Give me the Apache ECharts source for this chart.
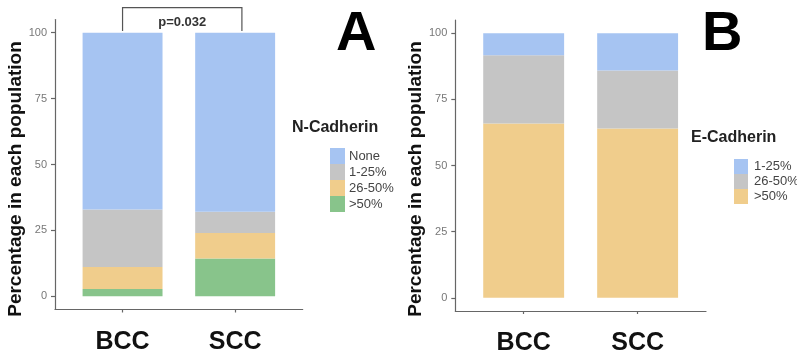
<!DOCTYPE html>
<html>
<head>
<meta charset="utf-8">
<script src="https://cdn.jsdelivr.net/npm/echarts@6/dist/echarts.min.js"></script>
<style>
html,body{margin:0;padding:0;background:#fff;}
#chart{width:797px;height:356px;}
</style>
</head>
<body>
<div id="chart"></div>
<script>
// ---- data ----
const categories = ['BCC', 'SCC'];
const yTicks = [0, 25, 50, 75, 100];

// Panel A: N-Cadherin (bottom to top: >50%, 26-50%, 1-25%, None)
const nCadLevels = ['None', '1-25%', '26-50%', '>50%'];
const nCadNone = [67.1, 67.9];
const nCad1to25 = [21.8, 8.1];
const nCad26to50 = [8.3, 9.7];
const nCadOver50 = [2.8, 14.3];

// Panel B: E-Cadherin (bottom to top: >50%, 26-50%, 1-25%)
const eCadLevels = ['1-25%', '26-50%', '>50%'];
const eCad1to25 = [8.3, 14.1];
const eCad26to50 = [25.8, 21.9];
const eCadOver50 = [65.9, 64.0];

const pValueText = 'p=0.032';
const panelLabels = ['A', 'B'];
const yTitle = 'Percentage in each population';

// ---- styles ----
const C_BLUE = '#A6C4F2', C_GRAY = '#C5C5C5', C_ORANGE = '#F0CD8C', C_GREEN = '#88C48B';
const FONT = '"Liberation Sans", Arial, Helvetica, sans-serif';

const nColors = [C_BLUE, C_GRAY, C_ORANGE, C_GREEN];
const eColors = [C_BLUE, C_GRAY, C_ORANGE];

function stackRanges(listsBottomUp) {
  const base = categories.map(() => 0);
  return listsBottomUp.map(vals => vals.map((v, i) => {
    const s = base[i]; base[i] += v;
    return [i + 1, s, base[i]];
  }));
}

const nStack = stackRanges([nCadOver50, nCad26to50, nCad1to25, nCadNone]); // bottom-up
const eStack = stackRanges([eCadOver50, eCad26to50, eCad1to25]);

function renderBar(params, api) {
  const x = api.value(0);
  const p0 = api.coord([x, api.value(1)]);
  const p1 = api.coord([x, api.value(2)]);
  const w = api.size([1, 0])[0] * 0.71;
  return {
    type: 'rect',
    shape: { x: p0[0] - w / 2, y: p1[1], width: w, height: p0[1] - p1[1] },
    style: { fill: api.visual('color') }
  };
}

const series = [];
const nOrderBottomUp = [3, 2, 1, 0];
nOrderBottomUp.forEach((li, k) => {
  series.push({
    type: 'custom', name: nCadLevels[li], xAxisIndex: 0, yAxisIndex: 0,
    itemStyle: { color: nColors[li] }, renderItem: renderBar, data: nStack[k],
    encode: { x: 0, y: [1, 2] }
  });
});
const eOrderBottomUp = [2, 1, 0];
eOrderBottomUp.forEach((li, k) => {
  series.push({
    type: 'custom', name: 'E:' + eCadLevels[li], xAxisIndex: 1, yAxisIndex: 1,
    itemStyle: { color: eColors[li] }, renderItem: renderBar, data: eStack[k],
    encode: { x: 0, y: [1, 2] }
  });
});
// significance bracket for panel A
series.push({
  type: 'custom', xAxisIndex: 0, yAxisIndex: 0, clip: false, silent: true,
  data: [[1, 2.06, 100.6, 109.5]],
  encode: { x: [0, 1], y: [2, 3] },
  renderItem: function (params, api) {
    const a = api.coord([api.value(0), api.value(2)]);
    const b = api.coord([api.value(0), api.value(3)]);
    const c = api.coord([api.value(1), api.value(3)]);
    const d = api.coord([api.value(1), api.value(2)]);
    return {
      type: 'group', children: [
        { type: 'polyline', shape: { points: [a, b, c, d] },
          style: { stroke: '#555', lineWidth: 1.2, fill: null } },
        { type: 'text', x: (a[0] + d[0]) / 2, y: b[1] + 15,
          style: { text: pValueText, font: 'bold 13px ' + FONT, fill: '#333',
                   textAlign: 'center', textVerticalAlign: 'middle' } }
      ]
    };
  }
});

const axisLineStyle = { color: '#666', width: 1.2 };

function xAxisCfg(gi) {
  return {
    type: 'value', gridIndex: gi, min: 0.4, max: 2.6,
    splitLine: { show: false },
    axisLine: { show: true, onZero: false, lineStyle: axisLineStyle },
    axisTick: { show: true, length: 3, lineStyle: axisLineStyle, customValues: categories.map((c, i) => i + 1) },
    axisLabel: {
      customValues: categories.map((c, i) => i + 1),
      formatter: v => categories[Math.round(v) - 1],
      fontFamily: FONT, fontWeight: 'bold', fontSize: 25, color: '#111', margin: 20
    }
  };
}
function yAxisCfg(gi) {
  return {
    type: 'value', gridIndex: gi, min: -5, max: 105,
    splitLine: { show: false },
    axisLine: { show: true, onZero: false, lineStyle: axisLineStyle },
    axisTick: { show: true, length: 4, lineStyle: axisLineStyle, customValues: yTicks },
    axisLabel: { customValues: yTicks, fontFamily: FONT, fontSize: 11, color: '#777', margin: 8 }
  };
}

const option = {
  animation: false,
  backgroundColor: '#fff',
  grid: [
    { left: 55, top: 19.5, width: 247.7, height: 290 },
    { left: 455.3, top: 20, width: 250.7, height: 292 }
  ],
  xAxis: [xAxisCfg(0), xAxisCfg(1)],
  yAxis: [yAxisCfg(0), yAxisCfg(1)],
  legend: [
    {
      data: nCadLevels, orient: 'vertical', left: 325, top: 143,
      icon: 'rect', itemWidth: 15, itemHeight: 16, itemGap: 0, selectedMode: false,
      textStyle: { fontFamily: FONT, fontSize: 13, color: '#444', padding: [0, 0, 0, -1] }
    },
    {
      data: eCadLevels.map(l => 'E:' + l), orient: 'vertical', left: 729, top: 154,
      icon: 'rect', itemWidth: 14, itemHeight: 15, itemGap: 0, selectedMode: false,
      formatter: n => n.replace(/^E:/, ''),
      textStyle: { fontFamily: FONT, fontSize: 13, color: '#444', padding: [0, 0, 0, 1] }
    }
  ],
  graphic: [
    { type: 'text', x: 16, y: 179, rotation: Math.PI / 2,
      style: { text: yTitle, font: 'bold 19px ' + FONT, fill: '#111', textAlign: 'center', textVerticalAlign: 'middle' } },
    { type: 'text', x: 416, y: 179, rotation: Math.PI / 2,
      style: { text: yTitle, font: 'bold 19px ' + FONT, fill: '#111', textAlign: 'center', textVerticalAlign: 'middle' } },
    { type: 'text', left: 292, top: 120, style: { text: 'N-Cadherin', font: 'bold 16px ' + FONT, fill: '#222' } },
    { type: 'text', left: 691, top: 130, style: { text: 'E-Cadherin', font: 'bold 16px ' + FONT, fill: '#222' } },
    { type: 'text', left: 336, top: 7, style: { text: panelLabels[0], font: 'bold 56px ' + FONT, fill: '#000' } },
    { type: 'text', left: 702, top: 7, style: { text: panelLabels[1], font: 'bold 56px ' + FONT, fill: '#000' } }
  ],
  series: series
};

const chart = echarts.init(document.getElementById('chart'), null, { renderer: 'canvas' });
chart.setOption(option);
</script>
</body>
</html>
